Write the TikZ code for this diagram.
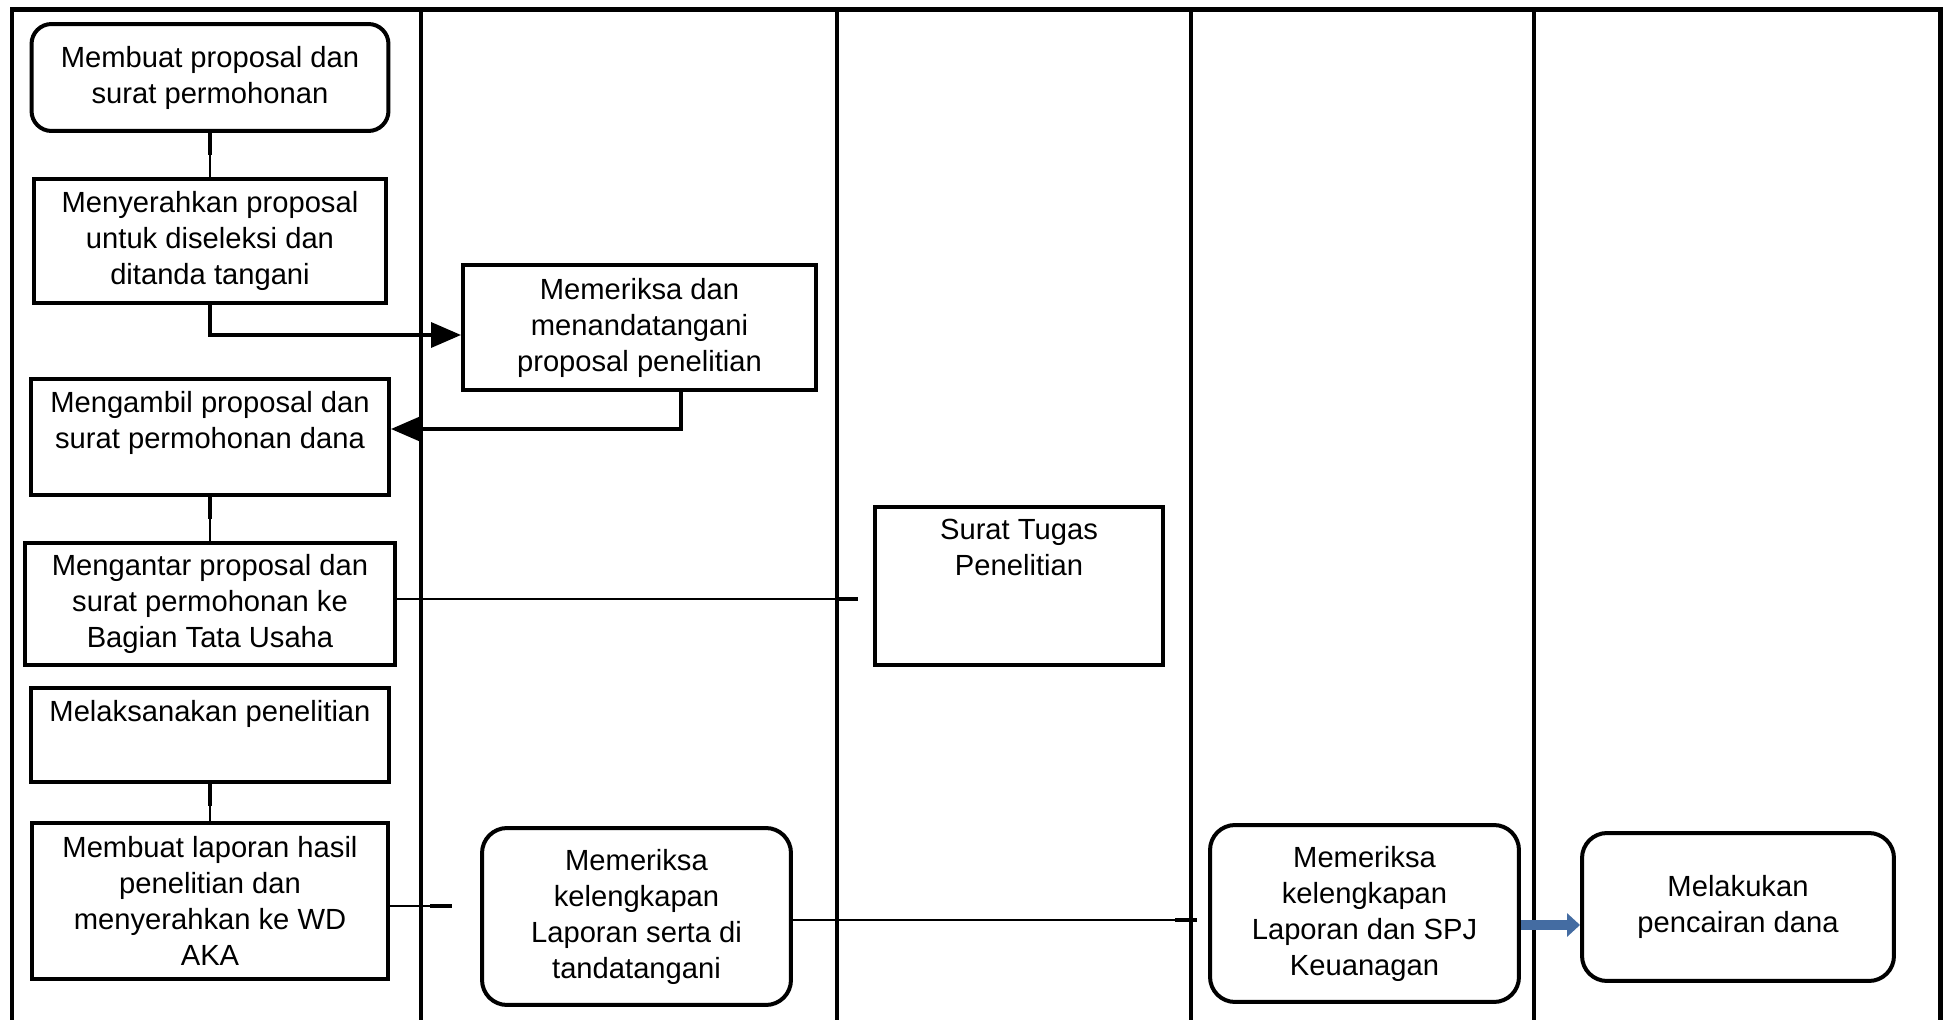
\documentclass[tikz,border=0pt]{standalone}
\usepackage{fontspec}
\setmainfont{Liberation Sans}
\usetikzlibrary{positioning, arrows.meta}
\definecolor{flowblue}{RGB}{68,108,162}

\begin{document}
\begin{tikzpicture}[x=0.02cm, y=-0.02cm,
  box node/.style={rectangle,draw,line width=0.08cm,align=center,inner sep=0pt,
    font=\fontsize{16.6}{20.5}\selectfont},
  round node/.style={box node,rounded corners=0.5cm},
  top text/.style={anchor=north,inner sep=0pt,align=center,
    font=\fontsize{16.6}{20.5}\selectfont},
  link/.style={line width=0.045cm},
  heavy link/.style={line width=0.07cm,-{Triangle[length=0.6cm,width=0.5cm]}}]

\useasboundingbox (0,0) rectangle (1944,1020);

% lanes
\draw[line width=0.1cm] (12,1020) -- (12,10) -- (1940,10) -- (1940,1020);
\foreach \x in {421,837,1191,1534}
  \draw[line width=0.07cm] (\x,10) -- (\x,1020);

\node[round node, rounded corners=0.4cm, minimum width=7.14cm, minimum height=2.14cm] (A) at (210,77.5) {Membuat proposal dan\\surat permohonan};
\node[box node, minimum width=7.06cm, minimum height=2.48cm] (B) at (210,241) {Menyerahkan proposal\\untuk diseleksi dan\\ditanda tangani};
\node[box node, minimum width=7.06cm, minimum height=2.5cm] (C) at (639.5,327.5) {Memeriksa dan\\menandatangani\\proposal penelitian};
\node[box node, minimum width=7.16cm, minimum height=2.32cm] (D) at (210,437) {};
\node[top text] (D1) at ([yshift=-0.28cm]D.north) {Mengambil proposal dan\\surat permohonan dana};
\node[box node, minimum width=7.42cm, minimum height=2.44cm] (E) at (210,604) {Mengantar proposal dan\\surat permohonan ke\\Bagian Tata Usaha};
\node[box node, minimum width=5.76cm, minimum height=3.16cm] (F) at (1019,586) {};
\node[top text] (F1) at ([yshift=-0.28cm]F.north) {Surat Tugas\\Penelitian};
\node[box node, minimum width=7.16cm, minimum height=1.88cm] (G) at (210,735) {};
\node[top text] (G1) at ([yshift=-0.28cm]G.north) {Melaksanakan penelitian};
\node[box node, minimum width=7.14cm, minimum height=3.12cm] (H) at (210,901) {Membuat laporan hasil\\penelitian dan\\menyerahkan ke WD\\AKA};
\node[round node, minimum width=6.18cm, minimum height=3.54cm] (I) at (636.5,916.5) {Memeriksa\\kelengkapan\\Laporan serta di\\tandatangani};
\node[round node, minimum width=6.18cm, minimum height=3.54cm] (J) at (1364.5,913.5) {Memeriksa\\kelengkapan\\Laporan dan SPJ\\Keuanagan};
\node[round node, minimum width=6.24cm, minimum height=2.96cm] (K) at (1738,907) {Melakukan\\pencairan dana};

\draw[link, {Rectangle[length=0.45cm,width=0.08cm]}-] (A.south) -- (B.north);
\draw[heavy link] (B.south) |- ([yshift=-0.15cm]C.west);
\draw[heavy link] ([xshift=0.83cm]C.south) |- ([yshift=0.16cm]D.east);
\draw[link, {Rectangle[length=0.45cm,width=0.08cm]}-] (D.south) -- (E.north);
\draw[link, -{Rectangle[length=0.45cm,width=0.08cm]}, shorten >=0.3cm] ([yshift=0.1cm]E.east) -- ([yshift=0.1cm]E.east -| F.west);
\draw[link, {Rectangle[length=0.45cm,width=0.08cm]}-] (G.south) -- (H.north);
\draw[link, -{Rectangle[length=0.45cm,width=0.08cm]}, shorten >=0.56cm] ([yshift=-0.1cm]H.east) -- ([yshift=-0.1cm]H.east -| I.west);
\draw[link, -{Rectangle[length=0.45cm,width=0.08cm]}, shorten >=0.22cm] ([yshift=-0.07cm]I.east) -- ([yshift=-0.07cm]I.east -| J.west);
\draw[flowblue, line width=0.2cm, -{Triangle[length=0.26cm,width=0.46cm]}] ([yshift=-0.23cm]J.east) -- ([yshift=-0.23cm]J.east -| K.west);

\end{tikzpicture}
\end{document}
